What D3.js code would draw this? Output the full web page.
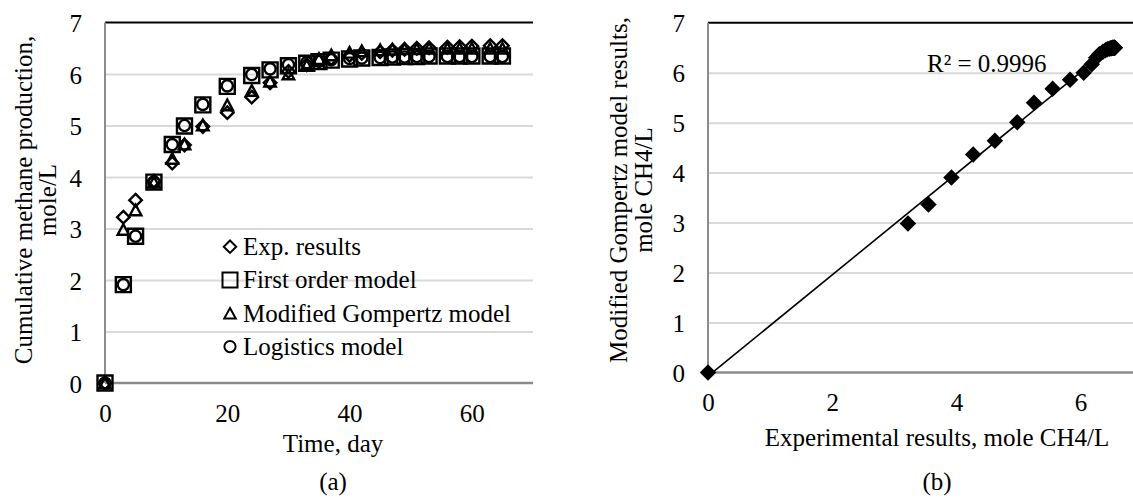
<!DOCTYPE html>
<html>
<head>
<meta charset="utf-8">
<script src="https://cdn.jsdelivr.net/npm/d3@7"></script>
<style>
  html, body { margin: 0; padding: 0; background: #fff; }
  svg { display: block; }
</style>
</head>
<body>
<svg id="chart" width="1133" height="498"></svg>
<script>
// Sampling days of the batch test
const days = [0, 3, 5, 8, 11, 13, 16, 20, 24, 27, 30, 33, 35, 37, 40, 42, 45, 47, 49, 51, 53, 56, 58, 60, 63, 65];
// Cumulative methane production, mole/L
const expResults = [0, 3.22, 3.55, 3.92, 4.27, 4.62, 4.98, 5.25, 5.55, 5.83, 6.05, 6.18, 6.25, 6.30, 6.36, 6.40, 6.43, 6.46, 6.48, 6.50, 6.51, 6.52, 6.53, 6.54, 6.55, 6.55];
const firstOrder = [0, 1.91, 2.85, 3.90, 4.63, 4.99, 5.40, 5.76, 5.97, 6.08, 6.16, 6.21, 6.24, 6.27, 6.29, 6.31, 6.32, 6.33, 6.34, 6.34, 6.35, 6.35, 6.35, 6.35, 6.35, 6.35];
const gompertz = [0, 2.98, 3.36, 3.90, 4.36, 4.64, 5.01, 5.40, 5.68, 5.86, 6.00, 6.17, 6.30, 6.37, 6.42, 6.45, 6.47, 6.48, 6.49, 6.49, 6.50, 6.50, 6.50, 6.50, 6.50, 6.50];
const logistics = [0, 1.91, 2.85, 3.90, 4.63, 5.00, 5.41, 5.77, 5.99, 6.10, 6.18, 6.22, 6.25, 6.28, 6.30, 6.31, 6.32, 6.33, 6.33, 6.34, 6.34, 6.34, 6.34, 6.34, 6.34, 6.34];

const seriesNames = ["Exp. results", "First order model", "Modified Gompertz model", "Logistics model"];
const yTicks = [0, 1, 2, 3, 4, 5, 6, 7];
const dayTicks = [0, 20, 40, 60];
const expTicks = [0, 2, 4, 6];
const r2Label = "R² = 0.9996";

const FONT = 25;
const FAMILY = "'Liberation Serif', 'Times New Roman', 'DejaVu Serif', serif";
const svg = d3.select("#chart")
  .attr("font-family", FAMILY)
  .style("font-family", FAMILY);

// Custom marker shapes (size = bounding width squared)
const diamondType = {
  draw(ctx, size) {
    const r = Math.sqrt(size) / 2;
    ctx.moveTo(0, -r); ctx.lineTo(r, 0); ctx.lineTo(0, r); ctx.lineTo(-r, 0); ctx.closePath();
  }
};
const triangleType = {
  draw(ctx, size) {
    const w = Math.sqrt(size) / 2, h = w * 0.92;
    ctx.moveTo(0, -h); ctx.lineTo(w, h); ctx.lineTo(-w, h); ctx.closePath();
  }
};
const markers = [
  d3.symbol().type(diamondType).size(12.5 * 12.5),
  d3.symbol().type(d3.symbolSquare).size(15 * 15),
  d3.symbol().type(triangleType).size(11.5 * 11.5),
  d3.symbol().type(d3.symbolCircle).size(Math.PI * 5.6 * 5.6)
];
const MARK_STROKE = 2.4;

function styleAxisText(a) {
  a.attr("font-family", FAMILY).attr("font-size", FONT);
  a.select(".domain").remove();
  a.selectAll("text").attr("fill", "#000").style("font-family", FAMILY).attr("font-size", FONT);
}

function frame(g, x, y, xTickVals) {
  const [x0, x1] = x.range();
  // horizontal gridlines
  g.append("g")
    .attr("transform", `translate(${x0},0)`)
    .call(d3.axisLeft(y).tickValues(yTicks.filter(v => v > 0 && v < 7)).tickSize(-(x1 - x0)).tickFormat(""))
    .call(a => a.select(".domain").remove())
    .call(a => a.selectAll("line").attr("stroke", "#d9d9d9").attr("stroke-width", 2));
  // top rule at the axis maximum
  g.append("line")
    .attr("x1", x0).attr("x2", x1).attr("y1", y(7)).attr("y2", y(7))
    .attr("stroke", "#000").attr("stroke-width", 2);
  // value axis
  g.append("line")
    .attr("x1", x0).attr("x2", x0).attr("y1", y(0)).attr("y2", y(7))
    .attr("stroke", "#8c8c8c").attr("stroke-width", 2);
  // category axis
  g.append("line")
    .attr("x1", x0).attr("x2", x1).attr("y1", y(0)).attr("y2", y(0))
    .attr("stroke", "#8c8c8c").attr("stroke-width", 2.5);

  g.append("g")
    .attr("transform", `translate(${x0},0)`)
    .call(d3.axisLeft(y).tickValues(yTicks).tickFormat(d3.format("d")).tickSize(0).tickPadding(23))
    .call(styleAxisText)
    .call(a => a.selectAll("text").attr("dy", "0.36em"));
  g.append("g")
    .attr("transform", `translate(0,${y(0)})`)
    .call(d3.axisBottom(x).tickValues(xTickVals).tickFormat(d3.format("d")).tickSize(0).tickPadding(21))
    .call(styleAxisText);
}

function label(g, x, y, t, anchor) {
  return g.append("text")
    .attr("x", x).attr("y", y)
    .attr("text-anchor", anchor || "start")
    .attr("font-size", FONT)
    .style("font-family", FAMILY)
    .attr("fill", "#000")
    .text(t);
}

function yTitle(g, lines, xs, cy) {
  lines.forEach((t, i) => {
    g.append("text")
      .attr("transform", `translate(${xs[i]},${cy}) rotate(-90)`)
      .attr("text-anchor", "middle")
      .attr("dy", "0.35em")
      .attr("font-size", FONT)
      .style("font-family", FAMILY)
      .text(t);
  });
}

// ---------- (a) methane production over time ----------
const xA = d3.scaleLinear().domain([0, 70]).range([105, 533]);
const yA = d3.scaleLinear().domain([0, 7]).range([383, 22.5]);
const gA = svg.append("g");
frame(gA, xA, yA, dayTicks);

const seriesA = [expResults, firstOrder, gompertz, logistics];
seriesA.forEach((vals, s) => {
  gA.append("g").selectAll("path")
    .data(days.map((d, i) => [d, vals[i]]))
    .join("path")
    .attr("transform", d => `translate(${xA(d[0])},${yA(d[1])})`)
    .attr("d", markers[s])
    .attr("fill", "none")
    .attr("stroke", "#000")
    .attr("stroke-width", MARK_STROKE);
});

// legend
const legend = gA.append("g");
seriesNames.forEach((name, i) => {
  const cy = 246.7 + i * 33.3;
  legend.append("path")
    .attr("transform", `translate(230,${cy})`)
    .attr("d", markers[i])
    .attr("fill", "none").attr("stroke", "#000").attr("stroke-width", 2);
  label(legend, 243, cy, name).attr("dy", "0.33em");
});

label(gA, 333, 452, "Time, day", "middle");
yTitle(gA, ["Cumulative methane production,", "mole/L"], [23, 47], 200);
label(gA, 333, 490, "(a)", "middle");

// ---------- (b) model vs experiment ----------
const xB = d3.scaleLinear().domain([0, 7]).range([708, 1142.7]);
const yB = d3.scaleLinear().domain([0, 7]).range([372.5, 22.7]);
const gB = svg.append("g");
frame(gB, xB, yB, expTicks);

// least-squares trendline of model results against experimental results
const mx = d3.mean(expResults), my = d3.mean(gompertz);
const slope = d3.sum(expResults, (v, i) => (v - mx) * (gompertz[i] - my)) / d3.sum(expResults, v => (v - mx) ** 2);
const intercept = my - slope * mx;
const xFit = d3.extent(expResults);
gB.append("line")
  .attr("x1", xB(xFit[0])).attr("y1", yB(intercept + slope * xFit[0]))
  .attr("x2", xB(xFit[1])).attr("y2", yB(intercept + slope * xFit[1]))
  .attr("stroke", "#000").attr("stroke-width", 1.6);

gB.append("g").selectAll("path")
  .data(expResults.map((v, i) => [v, gompertz[i]]))
  .join("path")
  .attr("transform", d => `translate(${xB(d[0])},${yB(d[1])})`)
  .attr("d", d3.symbol().type(diamondType).size(16.5 * 16.5))
  .attr("fill", "#000");

label(gB, 927, 72, r2Label);
label(gB, 937, 446, "Experimental results, mole CH4/L", "middle");
yTitle(gB, ["Modified Gompertz model results,", "mole CH4/L"], [618, 643], 190);
label(gB, 937, 490, "(b)", "middle");
</script>
</body>
</html>
